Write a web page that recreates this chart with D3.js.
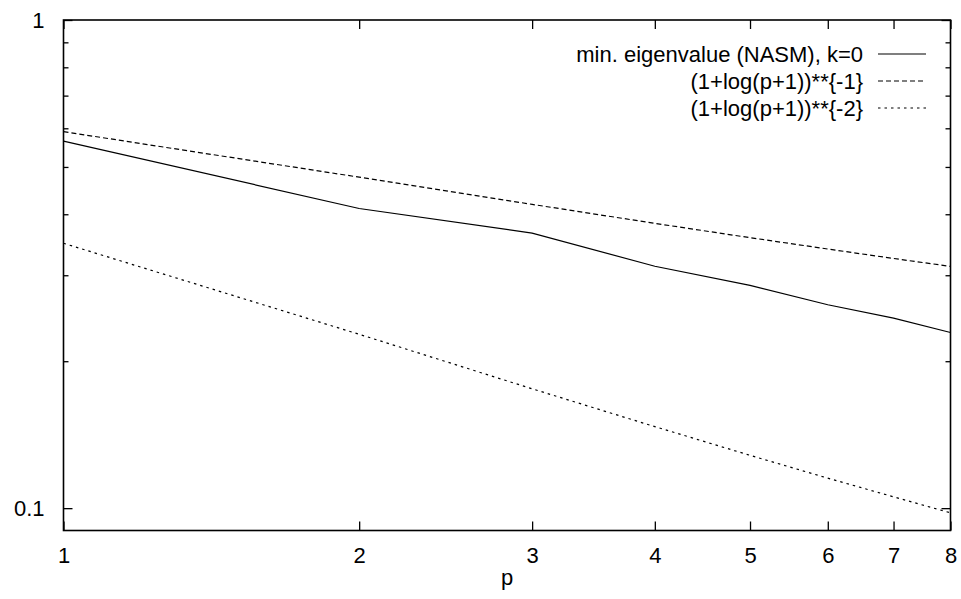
<!DOCTYPE html>
<html>
<head>
<meta charset="utf-8">
<script src="https://cdn.jsdelivr.net/npm/d3@7"></script>
<style>
  html, body { margin: 0; padding: 0; background: #fff; }
  svg { display: block; }
  text { font-family: "Liberation Sans", Arial, Helvetica, sans-serif; fill: #000; }
</style>
</head>
<body>
<svg id="chart" width="961" height="599"></svg>
<script>
// polynomial degree p
const degrees = [1, 2, 3, 4, 5, 6, 7, 8];
// minimum eigenvalue of the NASM preconditioned operator, k=0
const minEigNASM = [0.565, 0.411, 0.366, 0.313, 0.286, 0.261, 0.245, 0.229];
// reference curve (1+log(p+1))**{-1}
const refInv1 = [0.5906, 0.4765, 0.4191, 0.3832, 0.3582, 0.3395, 0.3247, 0.3128];
// reference curve (1+log(p+1))**{-2}
const refInv2 = [0.3488, 0.2271, 0.1756, 0.1469, 0.1283, 0.1152, 0.1055, 0.0978];

const xTicks = [1, 2, 3, 4, 5, 6, 7, 8];
const yMajorTicks = [0.1, 1];
const yMinorTicks = [0.2, 0.3, 0.4, 0.5, 0.6, 0.7, 0.8, 0.9];

const seriesList = [
  { label: "min. eigenvalue (NASM), k=0", values: minEigNASM, dash: null },
  { label: "(1+log(p+1))**{-1}", values: refInv1, dash: "5,3" },
  { label: "(1+log(p+1))**{-2}", values: refInv2, dash: "2.5,4" }
];

const plotLeft = 63.5, plotRight = 950.5, plotTop = 20, plotBottom = 530.5;

const svg = d3.select("#chart");
const x = d3.scaleLog().domain([1, 8]).range([plotLeft, plotRight]);
const y = d3.scaleLog().domain([0.09, 1]).range([plotBottom, plotTop]);

const fontSize = 22;

// axes: ticks point into the plot area, mirrored on the opposite sides
const gAxes = svg.append("g");

const bottomAxis = d3.axisBottom(x).tickValues(xTicks).tickFormat(d3.format("d"))
  .tickSizeInner(-9).tickSizeOuter(0).tickPadding(17);
const gb = gAxes.append("g").attr("transform", `translate(0,${plotBottom})`).call(bottomAxis);
gb.select(".domain").remove();
gb.selectAll("text").attr("font-size", fontSize).attr("font-family", null);

const topAxis = d3.axisTop(x).tickValues(xTicks).tickFormat("")
  .tickSizeInner(-9).tickSizeOuter(0);
const gt = gAxes.append("g").attr("transform", `translate(0,${plotTop})`).call(topAxis);
gt.select(".domain").remove();

function yAxisPair(ticks, len, labelled) {
  const la = d3.axisLeft(y).tickValues(ticks)
    .tickFormat(labelled ? (d => d === 1 ? "1" : "0.1") : "")
    .tickSizeInner(-len).tickSizeOuter(0).tickPadding(19);
  const gl = gAxes.append("g").attr("transform", `translate(${plotLeft},0)`).call(la);
  gl.select(".domain").remove();
  gl.selectAll("text").attr("font-size", fontSize).attr("font-family", null);
  const ra = d3.axisRight(y).tickValues(ticks).tickFormat("")
    .tickSizeInner(-len).tickSizeOuter(0);
  const gr = gAxes.append("g").attr("transform", `translate(${plotRight},0)`).call(ra);
  gr.select(".domain").remove();
}
yAxisPair(yMajorTicks, 9, true);
yAxisPair(yMinorTicks, 5, false);

gAxes.selectAll(".tick line").attr("stroke", "#000").attr("stroke-width", 1.3);

// data curves
const line = d3.line().x((d, i) => x(degrees[i])).y(d => y(d));
seriesList.forEach(s => {
  svg.append("path")
    .datum(s.values)
    .attr("d", line)
    .attr("fill", "none")
    .attr("stroke", "#000")
    .attr("stroke-width", 1.2)
    .attr("stroke-dasharray", s.dash);
});

// plot frame
svg.append("rect")
  .attr("x", plotLeft).attr("y", plotTop)
  .attr("width", plotRight - plotLeft).attr("height", plotBottom - plotTop)
  .attr("fill", "none").attr("stroke", "#000").attr("stroke-width", 1.6);

// x axis title
svg.append("text")
  .attr("x", (plotLeft + plotRight) / 2).attr("y", 585)
  .attr("text-anchor", "middle").attr("font-size", fontSize)
  .text("p");

// key, top right inside the frame
const keyTextRight = 863, keyLineStart = 878, keyLineEnd = 926;
const keyRows = [54, 81, 108];
seriesList.forEach((s, i) => {
  svg.append("text")
    .attr("x", keyTextRight).attr("y", keyRows[i])
    .attr("dy", "0.35em").attr("text-anchor", "end")
    .attr("font-size", fontSize)
    .text(s.label);
  svg.append("line")
    .attr("x1", keyLineStart).attr("x2", keyLineEnd)
    .attr("y1", keyRows[i]).attr("y2", keyRows[i])
    .attr("stroke", "#000").attr("stroke-width", 1.2)
    .attr("stroke-dasharray", s.dash);
});
</script>
</body>
</html>
